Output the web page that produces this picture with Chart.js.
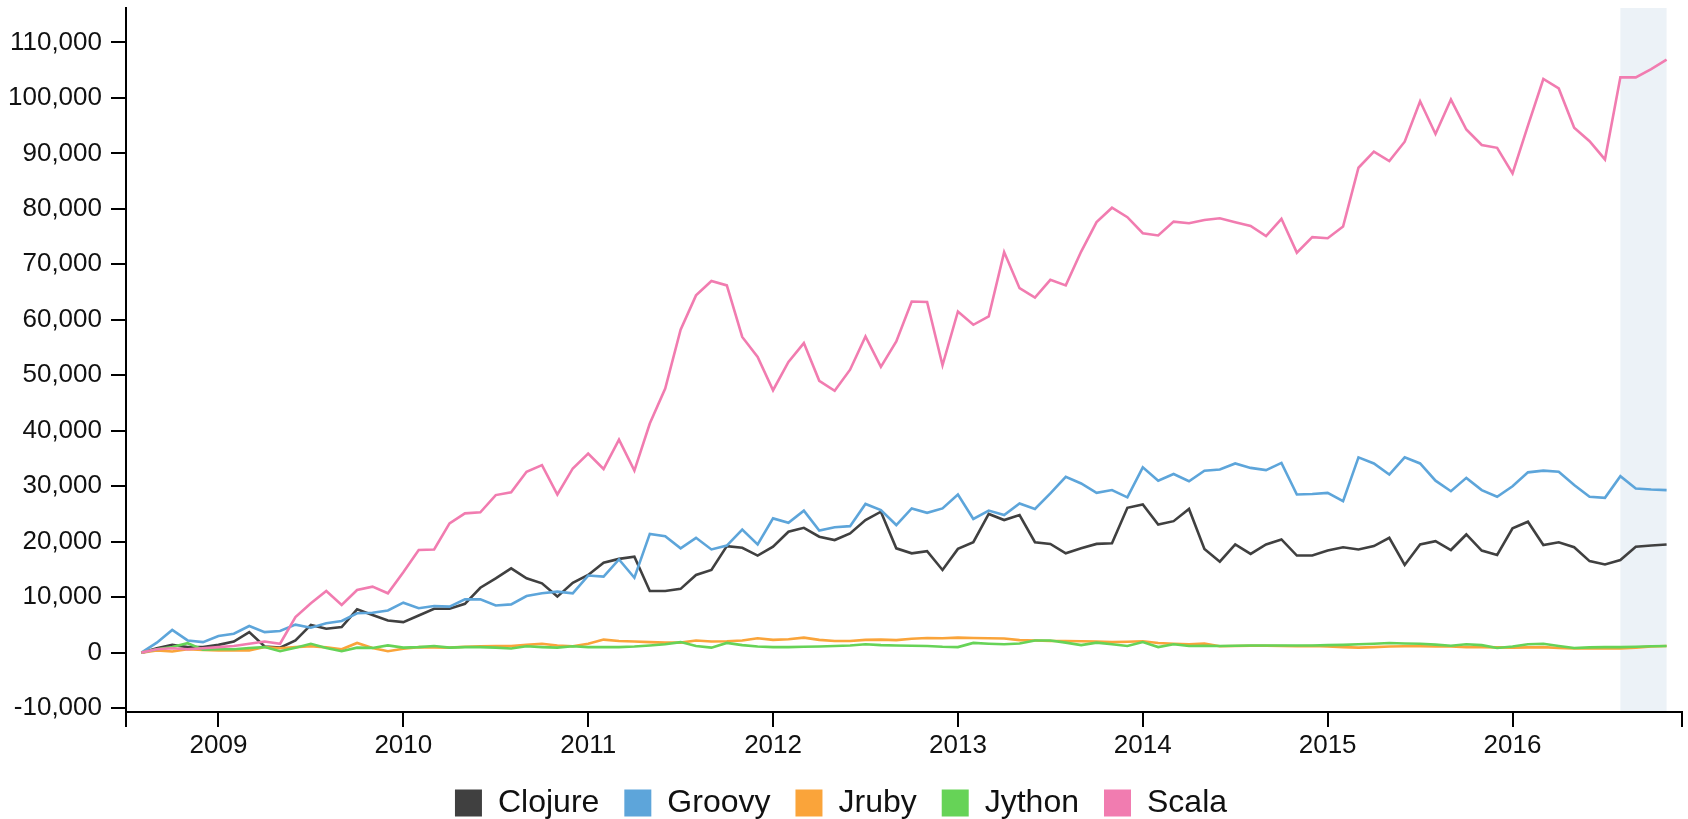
<!DOCTYPE html>
<html>
<head>
<meta charset="utf-8">
<script src="https://cdn.jsdelivr.net/npm/chart.js@4/dist/chart.umd.min.js"></script>
<style>
  html, body { margin: 0; padding: 0; background: #fff; }
  #wrap { width: 1688px; height: 819px; position: relative; }
</style>
</head>
<body>
<div id="wrap"><canvas id="langChart"></canvas></div>
<script>
// Monthly values, Aug 2008 .. Nov 2016 (100 months)
const firstMonth = { year: 2008, month: 8 };
const yearTicks = ["2009", "2010", "2011", "2012", "2013", "2014", "2015", "2016"];
const shadedFrom = "2016-08";

const clojure = [
	0, 800, 1400, 1000, 1000, 1400, 2000, 3700, 1100, 900,
	2200, 5000, 4300, 4600, 7800, 6800, 5800, 5500, 6700, 7900,
	7900, 8800, 11700, 13400, 15200, 13400, 12500, 10100, 12600, 14000,
	16200, 16900, 17300, 11100, 11100, 11500, 14000, 14900, 19200, 18900,
	17500, 19100, 21800, 22500, 20900, 20300, 21500, 23900, 25400, 18800,
	17900, 18300, 14900, 18700, 19900, 25000, 23900, 24800, 19900, 19600,
	17900, 18800, 19600, 19700, 26100, 26700, 23100, 23700, 25900, 18700,
	16400, 19500, 17800, 19500, 20400, 17500, 17500, 18400, 19000, 18600,
	19200, 20700, 15800, 19500, 20100, 18500, 21300, 18400, 17600, 22400,
	23600, 19400, 19900, 19000, 16500, 15900, 16700, 19100, 19300, 19500,
];

const groovy = [
	0, 1800, 4100, 2200, 1900, 3000, 3400, 4800, 3700, 3900,
	5050, 4500, 5300, 5700, 7100, 7200, 7600, 9000, 8000, 8400,
	8300, 9600, 9600, 8500, 8700, 10200, 10700, 11000, 10700, 13900,
	13700, 16800, 13500, 21400, 21000, 18800, 20700, 18600, 19300, 22200,
	19500, 24200, 23400, 25600, 22000, 22600, 22800, 26800, 25700, 23000,
	26000, 25200, 26000, 28500, 24100, 25600, 24800, 26900, 25900, 28700,
	31700, 30500, 28800, 29300, 28000, 33400, 31000, 32200, 30900, 32800,
	33000, 34100, 33300, 32900, 34200, 28500, 28600, 28800, 27300, 35200,
	34100, 32100, 35200, 34100, 31000, 29100, 31500, 29300, 28100, 30000,
	32500, 32800, 32600, 30200, 28100, 27900, 31800, 29600, 29400, 29300,
];

const jruby = [
	0, 400, 200, 600, 500, 400, 400, 400, 1000, 800,
	1000, 1150, 950, 600, 1750, 850, 250, 700, 1000, 950,
	900, 1050, 1150, 1200, 1200, 1400, 1600, 1300, 1150, 1600,
	2350, 2100, 2000, 1900, 1800, 1800, 2200, 2000, 2050, 2200,
	2600, 2300, 2400, 2700, 2300, 2100, 2100, 2300, 2350, 2250,
	2500, 2650, 2600, 2700, 2650, 2600, 2550, 2250, 2200, 2100,
	2100, 2050, 2000, 1900, 1950, 2050, 1750, 1600, 1500, 1650,
	1150, 1200, 1250, 1250, 1200, 1150, 1200, 1100, 1000, 900,
	1000, 1100, 1150, 1150, 1100, 1100, 1000, 1000, 950, 900,
	950, 1000, 850, 750, 750, 800, 750, 900, 1100, 1200,
];

const jython = [
	0, 600, 1000, 1700, 550, 600, 600, 850, 1000, 250,
	900, 1600, 850, 250, 900, 850, 1300, 900, 1000, 1200,
	900, 1000, 1000, 900, 750, 1150, 1000, 900, 1150, 1000,
	1000, 1000, 1100, 1300, 1500, 1900, 1200, 900, 1750, 1350,
	1100, 1000, 1000, 1050, 1100, 1200, 1300, 1500, 1350, 1300,
	1250, 1200, 1050, 1000, 1750, 1600, 1500, 1650, 2200, 2200,
	1800, 1350, 1800, 1500, 1200, 1900, 1000, 1500, 1200, 1250,
	1200, 1250, 1300, 1300, 1300, 1300, 1300, 1350, 1400, 1500,
	1600, 1750, 1650, 1600, 1450, 1250, 1500, 1350, 850, 1100,
	1500, 1600, 1200, 850, 950, 1000, 1000, 1050, 1150, 1200,
];

const scala = [
	0, 600, 800, 600, 800, 1000, 1200, 1600, 2000, 1600,
	6400, 8900, 11100, 8600, 11300, 11900, 10700, 14500, 18500, 18600,
	23300, 25100, 25300, 28400, 28900, 32600, 33800, 28500, 33200, 35900,
	33100, 38400, 32800, 41300, 47600, 58200, 64400, 67000, 66200, 56900,
	53300, 47300, 52400, 55800, 49000, 47200, 51000, 57000, 51500, 56100,
	63300, 63200, 51800, 61500, 59100, 60600, 72200, 65700, 64000, 67200,
	66200, 72300, 77600, 80200, 78500, 75600, 75200, 77700, 77400, 78000,
	78300, 77600, 76900, 75100, 78200, 72100, 74900, 74700, 76800, 87400,
	90300, 88600, 92100, 99400, 93500, 99700, 94300, 91500, 91000, 86400,
	95000, 103400, 101700, 94600, 92200, 88900, 103700, 103700, 105200, 106900,
];

// month index from a "YYYY-MM" string, relative to the first month
function monthIndex(ym) {
	const [y, m] = ym.split("-").map(Number);
	return (y - firstMonth.year) * 12 + (m - firstMonth.month);
}

const months = clojure.map((_, i) => {
	const t = firstMonth.month - 1 + i;
	const y = firstMonth.year + Math.floor(t / 12);
	const m = (t % 12) + 1;
	return y + "-" + String(m).padStart(2, "0");
});

const toPoints = (arr) => arr.map((v, i) => ({ x: i, y: v }));

const yearPos = {};
yearTicks.forEach((yr) => { yearPos[monthIndex(yr + "-01")] = yr; });

const xMin = -1;
const xMax = months.length;

const series = [
	{ label: "Clojure", data: clojure, color: "#404040" },
	{ label: "Groovy", data: groovy, color: "#5da5da" },
	{ label: "Jruby", data: jruby, color: "#faa43a" },
	{ label: "Jython", data: jython, color: "#66d357" },
	{ label: "Scala", data: scala, color: "#f17cb0" },
];

const shadePlugin = {
	id: "shade",
	beforeDraw(chart) {
		const { ctx, chartArea, scales } = chart;
		const x0 = scales.x.getPixelForValue(monthIndex(shadedFrom));
		const x1 = scales.x.getPixelForValue(months.length - 1);
		ctx.save();
		ctx.fillStyle = "rgba(70,130,180,0.1)";
		ctx.fillRect(x0, chartArea.top, x1 - x0, chartArea.bottom - chartArea.top);
		ctx.restore();
	},
};

const fontFamily = "'Liberation Sans', Arial, Helvetica, sans-serif";

const config = {
	type: "line",
	data: {
		datasets: series.map((s, i) => ({
			label: s.label,
			data: toPoints(s.data),
			borderColor: s.color,
			backgroundColor: s.color,
			borderWidth: 2.6,
			pointRadius: 0,
			pointHoverRadius: 0,
			tension: 0,
			fill: false,
			order: series.length - i,
		})),
	},
	options: {
		responsive: true,
		maintainAspectRatio: false,
		animation: false,
		layout: { padding: { top: 8, right: 6, left: 0, bottom: -10 } },
		plugins: {
			tooltip: { enabled: false },
			legend: {
				position: "bottom",
				labels: {
					font: { family: fontFamily, size: 32 },
					color: "#111",
					boxWidth: 27,
					boxHeight: 27,
					padding: 25,
					sort: (a, b) => a.datasetIndex - b.datasetIndex,
					generateLabels(chart) {
						const items = Chart.defaults.plugins.legend.labels.generateLabels(chart);
						items.forEach((it) => { it.lineWidth = 0; it.strokeStyle = "rgba(0,0,0,0)"; });
						return items;
					},
				},
			},
		},
		scales: {
			x: {
				type: "linear",
				min: xMin,
				max: xMax,
				afterBuildTicks(scale) {
					const vals = [xMin].concat(Object.keys(yearPos).map(Number), [xMax]);
					scale.ticks = vals.map((v) => ({ value: v }));
				},
				afterFit(scale) {
					scale.height = 50;
					scale.paddingLeft = 0;
					scale.paddingRight = 0;
				},
				ticks: {
					autoSkip: false,
					maxRotation: 0,
					padding: 3,
					color: "#111",
					font: { family: fontFamily, size: 26 },
					callback: (v) => yearPos[v] || "",
				},
				grid: { drawOnChartArea: false, drawTicks: true, tickLength: 15, color: "#000", lineWidth: 2 },
				border: { display: true, color: "#000", width: 2 },
			},
			y: {
				min: -10700,
				max: 116200,
				afterBuildTicks(scale) {
					const t = [];
					for (let v = -10000; v <= 110000; v += 10000) t.push({ value: v });
					scale.ticks = t;
				},
				afterFit(scale) {
					scale.width = 126;
					scale.paddingTop = 0;
					scale.paddingBottom = 0;
				},
				ticks: {
					padding: 9,
					color: "#111",
					font: { family: fontFamily, size: 26 },
					callback: (v) => v.toLocaleString("en-US"),
				},
				grid: { drawOnChartArea: false, drawTicks: true, tickLength: 15, color: "#000", lineWidth: 2 },
				border: { display: true, color: "#000", width: 2 },
			},
		},
	},
	plugins: [shadePlugin],
};

const langChart = new Chart(document.getElementById("langChart"), config);
</script>
</body>
</html>
